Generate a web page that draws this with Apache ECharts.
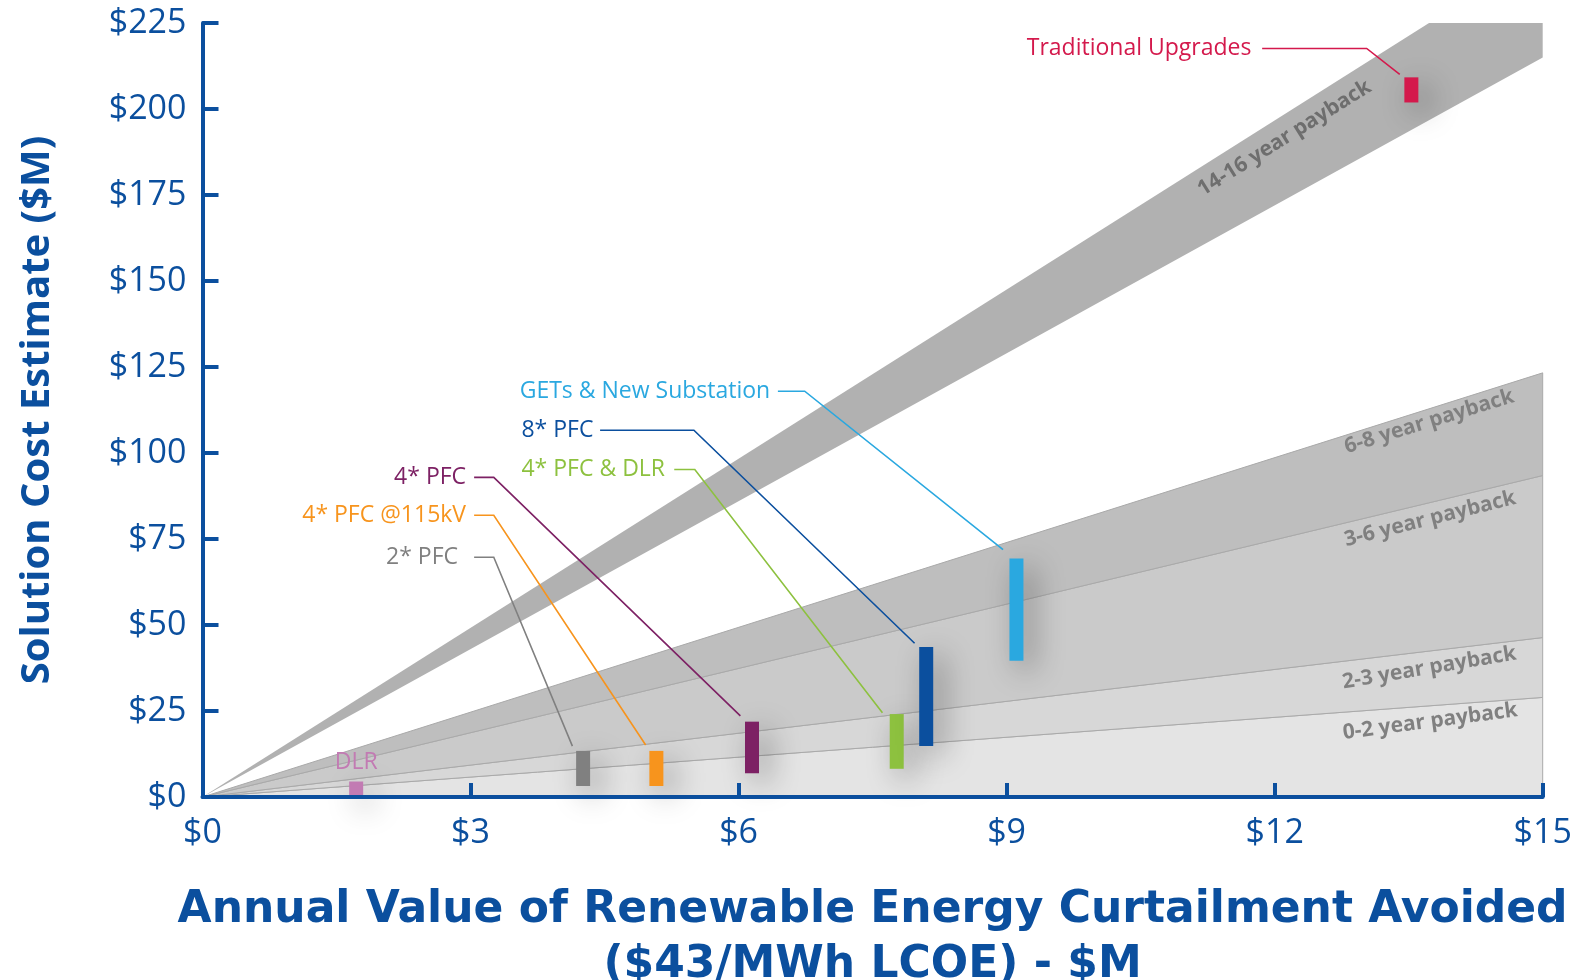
<!DOCTYPE html>
<html>
<head>
<meta charset="utf-8">
<script src="https://cdn.jsdelivr.net/npm/echarts@6/dist/echarts.min.js"></script>
<style>
  html, body { margin: 0; padding: 0; background: #fff; }
  #chart { width: 1578px; height: 980px; }
</style>
</head>
<body>
<div id="chart"></div>
<script>
// payback bands, as cost / annual value slopes
var bandNames = ['0-2 year payback', '2-3 year payback', '3-6 year payback', '6-8 year payback', '14-16 year payback'];
var bandLow = [0, 1.93, 3.09, 6.23, 14.33];
var bandHigh = [1.93, 3.09, 6.23, 8.22, 16.39];
// where each band label sits (data units) and its tilt
var bandLabelAt = [[13.74, 21.9], [13.73, 37.5], [13.74, 80.8], [13.73, 109.1], [12.11, 191.5]];
var bandLabelTilt = [7.5, 9.5, 14, 17, 32];

// solutions: annual value ($M) and estimated cost range ($M)
var solutions = ['DLR', '2* PFC', '4* PFC @115kV', '4* PFC', '4* PFC & DLR', '8* PFC', 'GETs & New Substation', 'Traditional Upgrades'];
var solValue = [1.72, 4.26, 5.08, 6.15, 7.77, 8.10, 9.11, 13.53];
var solCostLow = [0, 3.2, 3.2, 6.9, 8.2, 14.8, 39.6, 201.9];
var solCostHigh = [4.5, 13.4, 13.4, 21.9, 24.1, 43.6, 69.3, 209.2];

// callout text anchors and leader lines (data units)
var calloutAt = [[1.72, 9.9], [2.86, 69.7], [2.95, 81.9], [2.95, 92.9], [3.57, 95.2], [3.57, 106.6], [3.55, 117.96], [11.74, 217.6]];
var calloutAlign = ['center', 'right', 'right', 'right', 'left', 'left', 'left', 'right'];
var leaderPaths = [
  null,
  [[3.04, 69.7], [3.26, 69.7], [4.14, 14.8]],
  [[3.04, 81.9], [3.26, 81.9], [4.96, 15.1]],
  [[3.04, 92.9], [3.26, 92.9], [6.02, 23.6]],
  [[5.28, 95.2], [5.51, 95.2], [7.61, 24.5]],
  [[4.45, 106.6], [5.50, 106.6], [7.97, 44.7]],
  [[6.44, 117.96], [6.74, 117.96], [8.96, 71.9]],
  [[11.86, 217.6], [13.03, 217.6], [13.40, 210.1]]
];

var X_MAX = 15, Y_MAX = 225;
var BLUE = '#0b4f9e';
var bandColors = ['#e4e4e4', '#d7d7d7', '#cacaca', '#bebebe', '#b1b1b1'];
var solColors = ['#c27bb3', '#808080', '#f7941d', '#7d2164', '#8dc13f', '#0b4f9e', '#2aa8e0', '#d4194c'];
var FONT = "'Open Sans', sans-serif";

var chart = echarts.init(document.getElementById('chart'));

function bandItem(params, api) {
  var lo = api.value(0), hi = api.value(1);
  var pts = [[0, 0]];
  pts.push(lo * X_MAX <= Y_MAX ? [X_MAX, lo * X_MAX] : [Y_MAX / lo, Y_MAX]);
  if (hi * X_MAX <= Y_MAX) {
    pts.push([X_MAX, hi * X_MAX]);
  } else {
    if (lo * X_MAX < Y_MAX) pts.push([X_MAX, Y_MAX]);
    pts.push([Y_MAX / hi, Y_MAX]);
  }
  var lines = params.dataIndex < 4;
  return {
    type: 'polygon',
    shape: { points: pts.map(function (p) { return api.coord(p); }) },
    style: { fill: bandColors[params.dataIndex], stroke: lines ? '#a9a9a9' : null, lineWidth: lines ? 1 : 0 }
  };
}

function bandLabelItem(params, api) {
  var i = params.dataIndex;
  var p = api.coord([api.value(0), api.value(1)]);
  return {
    type: 'text',
    x: p[0], y: p[1],
    rotation: bandLabelTilt[i] * Math.PI / 180,
    style: {
      text: bandNames[i], fill: i === 4 ? '#6e6e6e' : '#808080',
      fontFamily: FONT, fontWeight: 'bold', fontSize: 21,
      align: 'center', verticalAlign: 'middle'
    }
  };
}

function leaderItem(params, api) {
  var i = api.value(0);
  var path = leaderPaths[i];
  if (!path) return null;
  return {
    type: 'polyline',
    shape: { points: path.map(function (p) { return api.coord(p); }) },
    style: { stroke: solColors[i], lineWidth: 1.6, fill: null }
  };
}

function barItem(params, api) {
  var i = params.dataIndex;
  var top = api.coord([api.value(0), api.value(2)]);
  var bot = api.coord([api.value(0), api.value(1)]);
  return {
    type: 'rect',
    shape: { x: top[0] - 7, y: top[1], width: 14, height: bot[1] - top[1] },
    style: {
      fill: solColors[i],
      shadowBlur: 30, shadowColor: 'rgba(0,0,0,0.38)', shadowOffsetX: 9, shadowOffsetY: 9
    }
  };
}

function calloutItem(params, api) {
  var i = params.dataIndex;
  var p = api.coord([api.value(0), api.value(1)]);
  return {
    type: 'text',
    x: p[0], y: p[1],
    style: {
      text: solutions[i], fill: solColors[i],
      fontFamily: FONT, fontSize: 23,
      align: calloutAlign[i], verticalAlign: 'middle'
    }
  };
}

chart.setOption({
  animation: false,
  grid: { left: 202.5, right: 35.3, top: 23, bottom: 183, outerBoundsMode: 'none', containLabel: false },
  xAxis: {
    type: 'value', min: 0, max: X_MAX, interval: 3, z: 10,
    axisLine: { show: true, onZero: false, lineStyle: { color: BLUE, width: 4 } },
    axisTick: { show: true, inside: true, length: 14, lineStyle: { color: BLUE, width: 4 } },
    axisLabel: { formatter: function (v) { return '$' + v; }, color: BLUE, fontSize: 34, fontFamily: FONT, margin: 19 },
    splitLine: { show: false },
    name: 'Annual Value of Renewable Energy Curtailment Avoided\n($43/MWh LCOE) - $M',
    nameLocation: 'middle', nameGap: 86,
    nameTextStyle: { color: BLUE, fontFamily: 'DejaVu Sans', fontWeight: 'bold', fontSize: 44, lineHeight: 55 }
  },
  yAxis: {
    type: 'value', min: 0, max: Y_MAX, interval: 25, z: 10,
    axisLine: { show: true, lineStyle: { color: BLUE, width: 4 } },
    axisTick: { show: true, inside: true, length: 16, lineStyle: { color: BLUE, width: 4 } },
    axisLabel: { formatter: function (v) { return '$' + v; }, color: BLUE, fontSize: 34, fontFamily: FONT, margin: 16 },
    splitLine: { show: false },
    name: 'Solution Cost Estimate ($M)',
    nameLocation: 'middle', nameGap: 145,
    nameTextStyle: { color: BLUE, fontFamily: FONT, fontWeight: 'bold', fontSize: 40 }
  },
  series: [
    {
      type: 'custom', z: 1, silent: true,
      data: bandLow.map(function (lo, i) { return [lo, bandHigh[i]]; }),
      renderItem: bandItem
    },
    {
      type: 'custom', z: 2, silent: true,
      data: bandLabelAt,
      renderItem: bandLabelItem
    },
    {
      type: 'custom', z: 3, silent: true,
      data: solutions.map(function (s, i) { return [i]; }),
      encode: { x: -1, y: -1 },
      renderItem: leaderItem
    },
    {
      type: 'custom', z: 4, silent: true,
      data: solValue.map(function (v, i) { return [v, solCostLow[i], solCostHigh[i]]; }),
      renderItem: barItem
    },
    {
      type: 'custom', z: 5, silent: true,
      data: calloutAt,
      renderItem: calloutItem
    }
  ]
});
</script>
</body>
</html>
